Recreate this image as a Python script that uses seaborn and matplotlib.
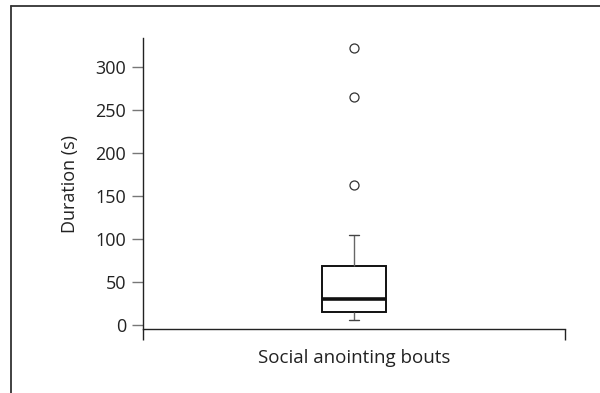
import pandas as pd
import matplotlib
matplotlib.use("Agg")
import matplotlib.pyplot as plt
import seaborn as sns

# durations of social anointing bouts (s)
durations = [6, 9, 11, 12, 14, 15, 18, 21, 24, 27, 30,
             35, 41, 48, 57, 68, 85, 105, 163, 265, 322]
category = ["Social anointing bouts"] * len(durations)
y_ticks = [0, 50, 100, 150, 200, 250, 300]

data = pd.DataFrame({"bout": category, "duration": durations})

sns.set_style("ticks")
plt.rcParams['font.family'] = ['Open Sans', 'DejaVu Sans']

fig = plt.figure(figsize=(6, 3.93), dpi=100)
ax = fig.add_axes([0.238, 0.163, 0.704, 0.740])

sns.boxplot(data=data, x="bout", y="duration", ax=ax, width=0.15,
            color="white", linecolor="#111111", linewidth=1.2,
            whis=1.5, capwidths=0.024,
            boxprops={"edgecolor": "#111111", "linewidth": 1.4},
            medianprops={"color": "#111111", "linewidth": 2.6},
            whiskerprops={"color": "#666666", "linewidth": 1.0},
            capprops={"color": "#444444", "linewidth": 1.0},
            flierprops={"marker": "o", "markerfacecolor": "none",
                        "markeredgecolor": "#333333", "markersize": 6.5,
                        "markeredgewidth": 0.9})

ax.set_xlim(-0.5, 0.5)
ax.set_ylim(-5, 334)
ax.set_yticks(y_ticks)
ax.set_xticks([-0.5, 0.5])
ax.set_xticklabels([])
ax.set_xlabel("Social anointing bouts", fontsize=13.5, color="#222222", labelpad=3)
ax.set_ylabel("Duration (s)", fontsize=13, color="#222222", labelpad=12)

sns.despine(ax=ax)
for s in ["left", "bottom"]:
    ax.spines[s].set_color("#222222")
    ax.spines[s].set_linewidth(1.0)
ax.tick_params(axis="y", length=8, width=1.0, color="#777777",
               labelsize=13, labelcolor="#222222", pad=4)
ax.tick_params(axis="x", length=8, width=1.0, color="#222222")

# outer frame (top and left edges)
fig.add_artist(plt.Line2D([0.018, 1.0], [0.984, 0.984], color="#333333", lw=1.3))
fig.add_artist(plt.Line2D([0.018, 0.018], [0.0, 0.984], color="#333333", lw=1.3))

fig.savefig("out.png", dpi=100)
